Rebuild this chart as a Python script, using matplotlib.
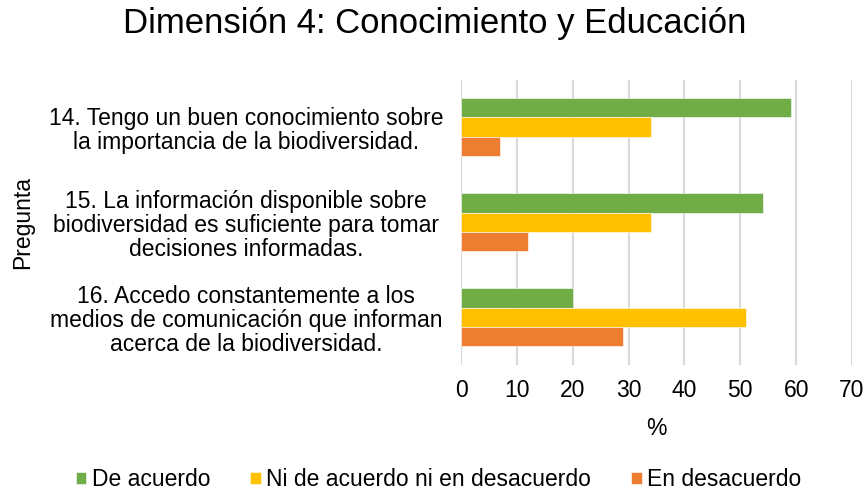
import matplotlib.pyplot as plt
import numpy as np

plt.rcParams['font.family'] = ['Liberation Sans', 'DejaVu Sans']

preguntas = ['14. Tengo un buen conocimiento sobre\nla importancia de la biodiversidad.',
             '15. La información disponible sobre\nbiodiversidad es suficiente para tomar\ndecisiones informadas.',
             '16. Accedo constantemente a los\nmedios de comunicación que informan\nacerca de la biodiversidad.']
series = ['De acuerdo', 'Ni de acuerdo ni en desacuerdo', 'En desacuerdo']
de_acuerdo = [59, 54, 20]
ni_ni = [34, 34, 51]
en_desacuerdo = [7, 12, 29]
colores = ['#70AD47', '#FFC000', '#ED7D31']
xticks = [0, 10, 20, 30, 40, 50, 60, 70]

fig = plt.figure(figsize=(8.65, 4.97), dpi=100)
ax = fig.add_axes([0.533, 0.266, 0.452, 0.574])

y = np.arange(len(preguntas))
h = 0.203
for i, (vals, nombre, c) in enumerate(zip([de_acuerdo, ni_ni, en_desacuerdo], series, colores)):
    ax.barh(y + (i - 1) * h, vals, height=h, color=c, label=nombre,
            edgecolor='white', linewidth=0.4)

ax.set_xlim(0, 70)
ax.set_ylim(len(preguntas) - 0.5, -0.5)
ax.set_xticks(xticks)
ax.set_yticks(y)
ax.set_yticklabels(preguntas, fontsize=16.5, ha='center', linespacing=1.07)
ax.tick_params(axis='y', length=0, pad=155)
ax.tick_params(axis='x', length=0, labelsize=16.5, pad=10)
ax.xaxis.grid(True, color='#D9D9D9', linewidth=1.5)
ax.set_axisbelow(True)
for s in ax.spines.values():
    s.set_visible(False)

ax.set_xlabel('%', fontsize=16.5, labelpad=11)
fig.text(0.026, 0.553, 'Pregunta', rotation=90, fontsize=16.5, va='center', ha='center')
fig.suptitle('Dimensión 4: Conocimiento y Educación', fontsize=25, x=0.502, y=0.985)

fig.legend(loc='lower center', bbox_to_anchor=(0.507, -0.03), ncol=3, frameon=False,
           fontsize=16.5, handlelength=0.45, handleheight=0.45, handletextpad=0.25,
           columnspacing=1.75)

fig.savefig('out.png', dpi=100)
